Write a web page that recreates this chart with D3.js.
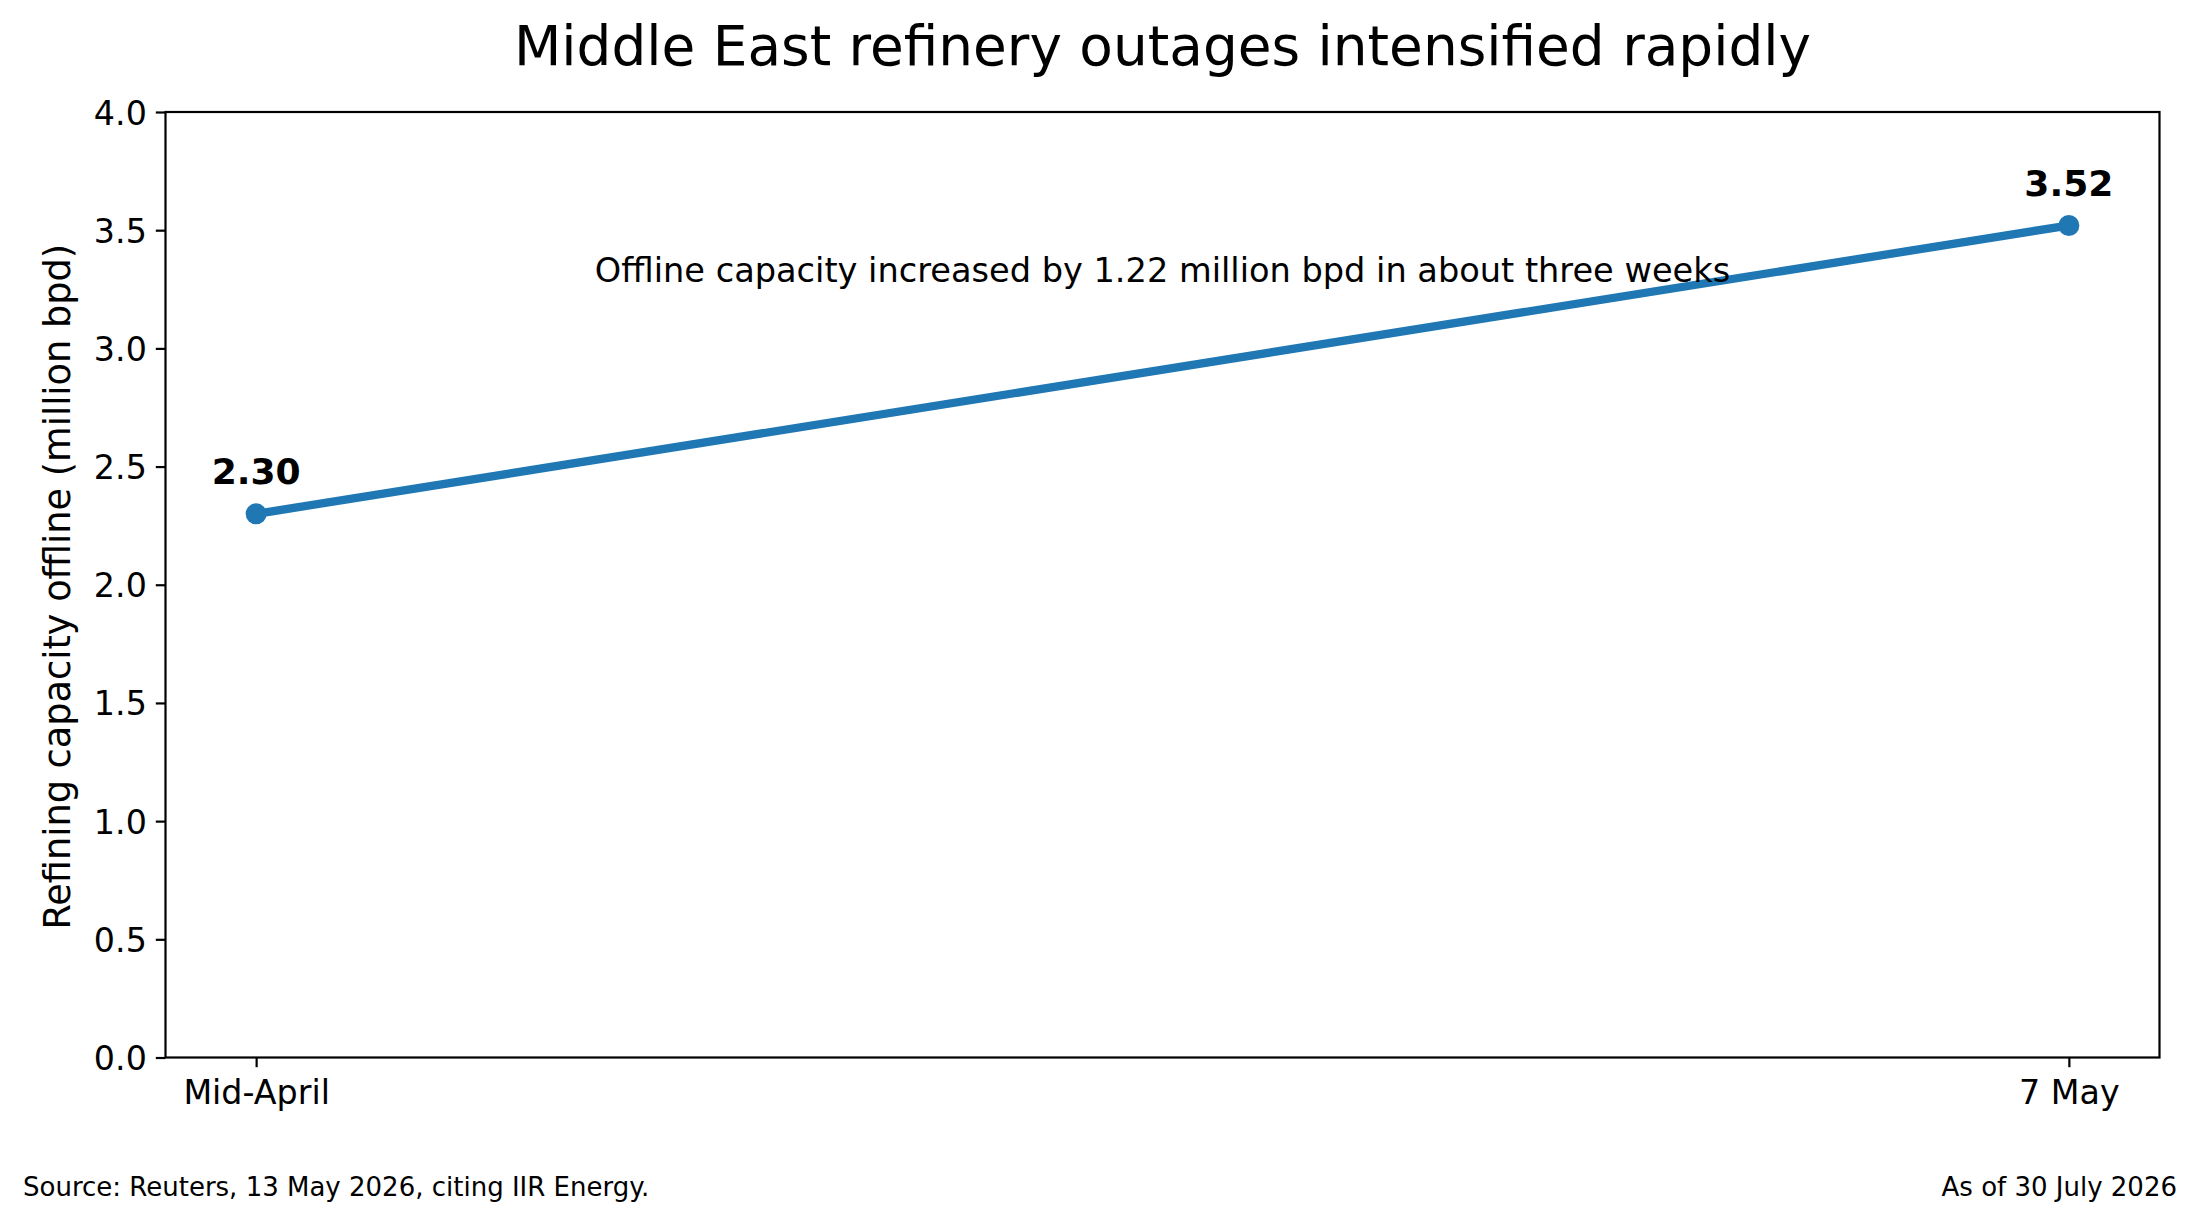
<!DOCTYPE html>
<html>
<head>
<meta charset="utf-8">
<script src="https://cdn.jsdelivr.net/npm/d3@7"></script>
<style>
  html, body { margin: 0; padding: 0; background: #fff; }
  svg { display: block; font-family: "DejaVu Sans", sans-serif; }
</style>
</head>
<body>
<svg id="chart" width="2200" height="1223"></svg>
<script>
const categories = ["Mid-April", "7 May"];
const values = [2.30, 3.52];
const valueLabels = ["2.30", "3.52"];
const yTicks = [0.0, 0.5, 1.0, 1.5, 2.0, 2.5, 3.0, 3.5, 4.0];
const titleText = "Middle East refinery outages intensified rapidly";
const yLabelText = "Refining capacity offline (million bpd)";
const noteText = "Offline capacity increased by 1.22 million bpd in about three weeks";
const sourceText = "Source: Reuters, 13 May 2026, citing IIR Energy.";
const asOfText = "As of 30 July 2026";

const W = 2200, H = 1223;
const m = { left: 165.5, right: 2159.5, top: 112, bottom: 1057.5 };
const color = "#1f77b4";

const svg = d3.select("#chart");
svg.append("rect").attr("width", W).attr("height", H).attr("fill", "#fff");

const x = d3.scaleLinear().domain([-0.05, categories.length - 1 + 0.05]).range([m.left, m.right]);
const y = d3.scaleLinear().domain([0, 4]).range([m.bottom, m.top]);

// Axes
const yAxis = d3.axisLeft(y).tickValues(yTicks).tickFormat(d3.format(".1f")).tickSize(9.7).tickPadding(9);
const gy = svg.append("g").attr("transform", `translate(${m.left},0)`).call(yAxis);
gy.select(".domain").remove();
gy.selectAll(".tick line").attr("stroke", "#000").attr("stroke-width", 2.2);
gy.selectAll(".tick text").attr("font-size", 33.3).attr("fill", "#000")
  .attr("font-family", "DejaVu Sans").attr("dy", "0.36em");

const xAxis = d3.axisBottom(x).tickValues(d3.range(categories.length)).tickFormat(i => categories[i]).tickSize(9.7).tickPadding(9);
const gx = svg.append("g").attr("transform", `translate(0,${m.bottom})`).call(xAxis);
gx.select(".domain").remove();
gx.selectAll(".tick line").attr("stroke", "#000").attr("stroke-width", 2.2);
gx.selectAll(".tick text").attr("font-size", 33.3).attr("fill", "#000")
  .attr("font-family", "DejaVu Sans").attr("y", 0).attr("dy", 0)
  .attr("transform", "translate(0,46.5)");

// Frame (spines)
svg.append("rect")
  .attr("x", m.left).attr("y", m.top)
  .attr("width", m.right - m.left).attr("height", m.bottom - m.top)
  .attr("fill", "none").attr("stroke", "#000").attr("stroke-width", 2.2);

// Line
const line = d3.line().x((d, i) => x(i)).y(d => y(d));
svg.append("path").datum(values)
  .attr("d", line).attr("fill", "none").attr("stroke", color)
  .attr("stroke-width", 8.3).attr("stroke-linecap", "square").attr("stroke-linejoin", "round");

svg.selectAll("circle.pt").data(values).enter().append("circle")
  .attr("class", "pt")
  .attr("cx", (d, i) => x(i)).attr("cy", d => y(d)).attr("r", 10.5)
  .attr("fill", color);

// Value labels
svg.selectAll("text.val").data(values).enter().append("text")
  .attr("class", "val")
  .attr("x", (d, i) => x(i)).attr("y", d => y(d) - 29.5)
  .attr("text-anchor", "middle").attr("font-size", 36.1).attr("font-weight", "bold")
  .attr("fill", "#000")
  .text((d, i) => valueLabels[i]);

// Annotation note
svg.append("text")
  .attr("x", (m.left + m.right) / 2).attr("y", 282)
  .attr("text-anchor", "middle").attr("font-size", 33.6).attr("fill", "#000")
  .text(noteText);

// Title
svg.append("text")
  .attr("x", (m.left + m.right) / 2).attr("y", 65)
  .attr("text-anchor", "middle").attr("font-size", 54.9).attr("fill", "#000")
  .text(titleText);

// Y label
svg.append("text")
  .attr("transform", `translate(70,${(m.top + m.bottom) / 2 + 2}) rotate(-90)`)
  .attr("text-anchor", "middle").attr("font-size", 36.7).attr("fill", "#000")
  .text(yLabelText);

// Footer
svg.append("text").attr("x", 23).attr("y", 1196)
  .attr("font-size", 26).attr("fill", "#000").text(sourceText);
svg.append("text").attr("x", 2177).attr("y", 1196).attr("text-anchor", "end")
  .attr("font-size", 26).attr("fill", "#000").text(asOfText);
</script>
</body>
</html>
